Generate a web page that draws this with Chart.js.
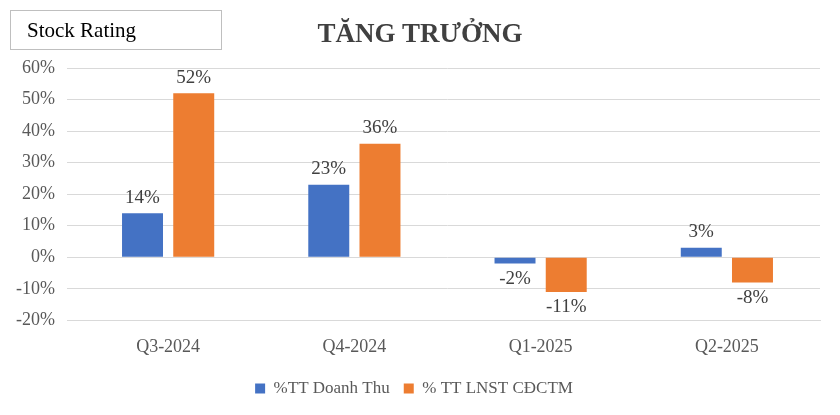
<!DOCTYPE html>
<html><head><meta charset="utf-8">
<script src="https://cdn.jsdelivr.net/npm/chart.js@4"></script>
<style>
html,body{margin:0;padding:0;background:#fff;}
#wrap{position:relative;width:840px;height:415px;}
#box{position:absolute;left:10px;top:10px;width:212px;height:40px;border:1px solid #bfbfbf;box-sizing:border-box;font-family:"Liberation Serif",serif;font-size:21px;color:#000;padding:7px 0 0 16px;}
#title{position:absolute;left:0;width:840px;top:18px;text-align:center;font-family:"Liberation Serif",serif;font-weight:bold;font-size:27px;color:#404040;}
canvas{position:absolute;left:0;top:0;}
</style></head><body>
<div id="wrap">
<canvas id="c" width="840" height="415"></canvas>
<div id="box">Stock Rating</div>
<div id="title">TĂNG TRƯỞNG</div>
</div>
<script>
const categories=["Q3-2024","Q4-2024","Q1-2025","Q2-2025"];
const revenue=[14,23,-2,3];
const profit=[52,36,-11,-8];
const seriesNames=["%TT Doanh Thu","% TT LNST CĐCTM"];
const font="'Liberation Serif', serif";
const labelPlugin={id:'lbl',afterDatasetsDraw(chart){
 const ctx=chart.ctx;ctx.save();ctx.font="19px "+font;ctx.fillStyle="#404040";ctx.textAlign="center";
 chart.data.datasets.forEach((ds,i)=>{chart.getDatasetMeta(i).data.forEach((b,j)=>{
  const v=ds.data[j];
  if(v>=0){ctx.textBaseline="bottom";ctx.fillText(v+"%",b.x,b.y-6);}
  else{ctx.textBaseline="top";ctx.fillText(v+"%",b.x,b.y+6);}
 });});ctx.restore();}};
new Chart(document.getElementById('c'),{type:'bar',
 data:{labels:categories,datasets:[
  {label:seriesNames[0],data:revenue,backgroundColor:'#4472C4',categoryPercentage:0.55,barPercentage:0.8},
  {label:seriesNames[1],data:profit,backgroundColor:'#ED7D31',categoryPercentage:0.55,barPercentage:0.8}]},
 options:{responsive:false,animation:false,
  layout:{padding:{top:68,left:8,right:20,bottom:8}},
  plugins:{legend:{position:'bottom',labels:{font:{family:font,size:17},color:'#595959',boxWidth:10,boxHeight:10,padding:14}},tooltip:{enabled:false}},
  scales:{
   x:{grid:{display:false},border:{color:'#d9d9d9'},ticks:{font:{family:font,size:18},color:'#595959',padding:8}},
   y:{min:-20,max:60,ticks:{stepSize:10,callback:v=>v+'%',font:{family:font,size:18},color:'#595959',padding:12},
      grid:{color:'#d9d9d9'},border:{display:false},afterFit(s){s.width=67;}}
  }},
 plugins:[labelPlugin]});
</script>
</body></html>
